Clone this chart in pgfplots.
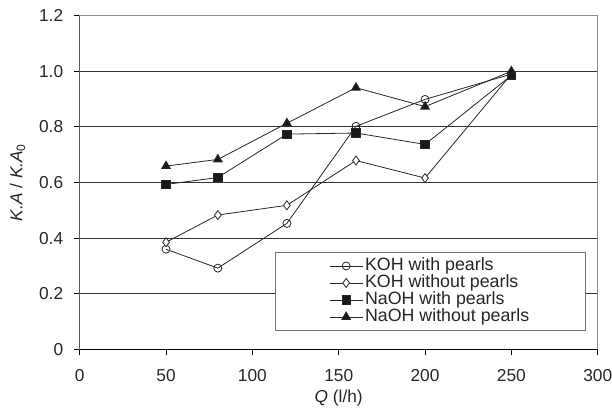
\documentclass[border=0pt]{standalone}
\usepackage{fontspec}
\setmainfont{Liberation Sans}
\usepackage{pgfplots}
\pgfplotsset{compat=1.18}

\begin{document}
\begin{tikzpicture}
\begin{axis}[
    name=ax,
    scale only axis,
    width=518bp, height=333.6bp,
    xmin=0, xmax=300,
    ymin=0, ymax=1.2,
    xtick={0,50,100,150,200,250,300},
    ytick={0,0.2,0.4,0.6,0.8,1.0,1.2},
    yticklabels={0,0.2,0.4,0.6,0.8,1.0,1.2},
    /pgf/number format/assume math mode=true,
    tick label style={font=\fontsize{17.3bp}{20bp}\selectfont, black!85},
    xticklabel style={yshift=-11bp},
    yticklabel style={xshift=-7bp},
    label style={font=\fontsize{17.3bp}{20bp}\selectfont, black!85},
    xlabel={\textit{Q} (l/h)},
    ylabel={\textit{K.A} / \textit{K.A}\textsubscript{0}},
    xlabel style={at={(axis description cs:0.5,-0.147)}, anchor=center},
    ylabel style={at={(axis description cs:-0.12,0.5)}, anchor=center},
    ymajorgrids=true,
    grid style={black!80, line width=0.8bp},
    axis line style={black!45, line width=1bp},
    tick style={black, line width=0.8bp},
    tick align=outside,
    major tick length=6bp,
    xtick pos=bottom, ytick pos=left,
    legend style={
        at={(rel axis cs:0.977,0.055)}, anchor=south east,
        draw=black!55, line width=1bp,
        font=\fontsize{17.8bp}{17bp}\selectfont,
        inner xsep=54bp, inner ysep=5.5bp,
        row sep=1bp,
        nodes={inner ysep=0bp, text height=12.5bp, text depth=3.5bp, text=black!85},
    },
    legend cell align=left,
    legend image code/.code={
        \draw[mark repeat=2,mark phase=2] plot coordinates {(0bp,0bp)(16.5bp,0bp)(33bp,0bp)};
    },
    every axis plot/.append style={line width=0.8bp, black!85},
]
\draw[black, line width=0.8bp] (rel axis cs:0,1) -- (rel axis cs:0,0) -- (rel axis cs:1,0);

\addplot[mark=o, mark size=4bp, mark options={fill=white, solid}]
    coordinates {(50,0.360)(80,0.292)(120,0.453)(160,0.802)(200,0.899)(250,0.99)};
\addlegendentry{KOH with pearls}

\addplot[mark=diamond*, mark size=4.5bp, mark options={fill=white, solid}]
    coordinates {(50,0.385)(80,0.483)(120,0.518)(160,0.679)(200,0.616)(250,0.99)};
\addlegendentry{KOH without pearls}

\addplot[mark=square*, mark size=4.2bp, mark options={fill=black!90}]
    coordinates {(50,0.593)(80,0.618)(120,0.774)(160,0.778)(200,0.737)(250,0.985)};
\addlegendentry{NaOH with pearls}

\addplot[mark=triangle*, mark size=5bp, mark options={fill=black!90}]
    coordinates {(50,0.659)(80,0.683)(120,0.813)(160,0.941)(200,0.873)(250,1.0)};
\addlegendentry{NaOH without pearls}
\end{axis}
\pgfresetboundingbox
\path ([shift={(-79.7bp,-69.7bp)}]ax.south west) rectangle ([shift={(14.3bp,15.7bp)}]ax.north east);
\end{tikzpicture}
\end{document}
